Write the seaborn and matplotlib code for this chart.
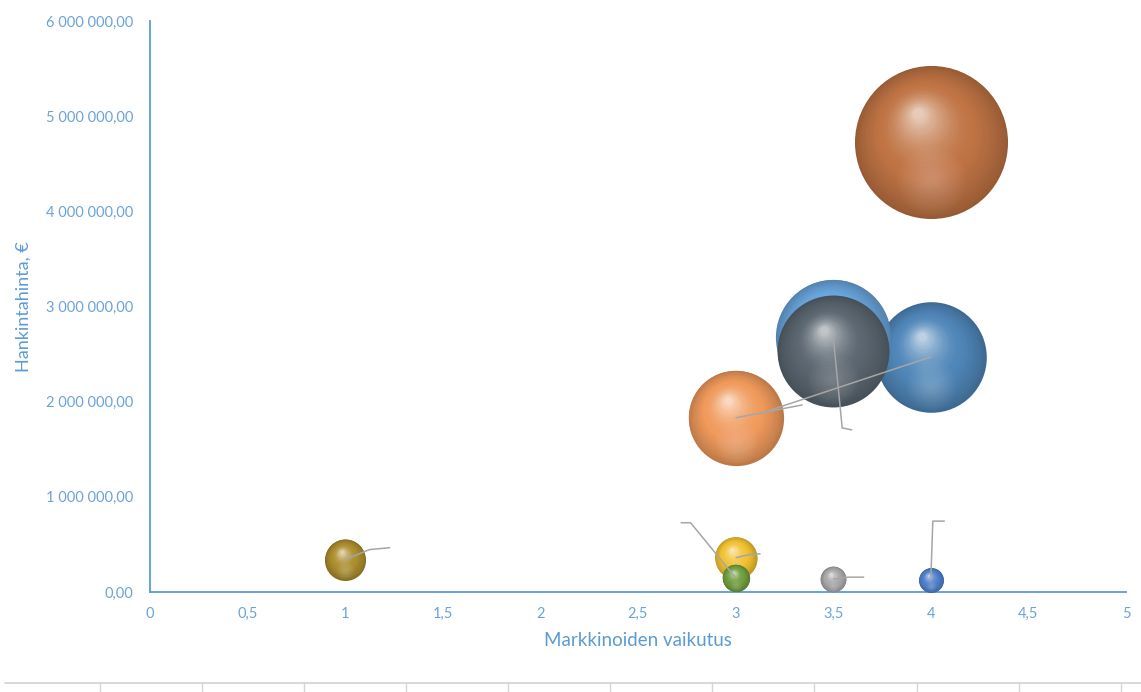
import numpy as np
import pandas as pd
import matplotlib
matplotlib.use("Agg")
import matplotlib.pyplot as plt
import matplotlib.transforms as mtransforms
from matplotlib.colors import to_rgb
from matplotlib.lines import Line2D
from matplotlib.ticker import FuncFormatter, MultipleLocator
import seaborn as sns

# Purchases: market impact (x) against purchase price (y); bubble area follows the price
hankinnat = ["H1", "H2", "H3", "H4", "H5", "H6", "H7", "H8", "H9", "H10"]
markkinavaikutus = [4.0, 3.5, 3.5, 4.0, 3.0, 1.0, 3.0, 3.0, 3.5, 4.0]
hankintahinta = [2_470_000, 2_680_000, 2_530_000, 4_730_000, 1_830_000,
                 340_000, 360_000, 150_000, 135_000, 125_000]
varit = ["#4F86B8", "#6AA6DE", "#5A6670", "#C07444", "#F09A5C",
         "#AC8E2E", "#F2C232", "#70A03E", "#A8A8A8", "#5080CC"]

# leader lines (pixel offsets from the bubble centre, y pointing down)
johtoviivat = [
    [(0, 0), (-172, 57)],
    [(0, 0), (9, 91), (19, 93)],
    None,
    None,
    [(0, 0), (67, -13)],
    [(0, 0), (24, -10), (45, -12)],
    [(0, 0), (13, -3), (25, -4)],
    [(0, 0), (-45, -55), (-55, -55)],
    [(0, 0), (15, -2), (31, -2)],
    [(0, 0), (2, -59), (14, -59)],
]

df = pd.DataFrame({"hankinta": hankinnat, "vaikutus": markkinavaikutus,
                   "hinta": hankintahinta, "vari": varit})

sns.set_theme(style="white")
plt.rcParams["font.family"] = ["Lato", "DejaVu Sans"]

DPI = 100
fig = plt.figure(figsize=(11.41, 6.92), dpi=DPI)
ax = fig.add_axes([150 / 1141, 100 / 692, 976 / 1141, 571 / 692])
ax.set_xlim(0, 5)
ax.set_ylim(0, 6_000_000)

YMAX = 6_000_000
SMAX = 2567 * 6.0          # marker area (pt^2) at YMAX


def mix(c1, c2, t):
    a, b = np.array(to_rgb(c1)), np.array(to_rgb(c2))
    return tuple(np.clip(a + (b - a) * t, 0, 1))


def shade(base, t):
    # t = 0 at the rim, 1 at the specular highlight
    dark = mix(base, "black", 0.22)
    light = mix(base, "white", 0.62)
    if t < 0.4:
        return mix(dark, base, (t / 0.4) ** 0.8)
    return mix(base, light, ((t - 0.4) / 0.6) ** 1.7)


N_LAYERS = 48
for i, row in df.iterrows():
    s = SMAX * row["hinta"] / YMAX
    r_px = np.sqrt(s) / 2 * DPI / 72
    sns.scatterplot(data=df.iloc[[i]], x="vaikutus", y="hinta", size="hinta",
                    sizes=(0, SMAX), size_norm=(0, YMAX), color=shade(row["vari"], 0),
                    linewidth=0, legend=False, ax=ax, zorder=3 + i)
    hx, hy = -0.18 * r_px, 0.40 * r_px
    for k in range(1, N_LAYERS):
        t = k / (N_LAYERS - 1)
        f = 1 - 0.93 * t
        tr = mtransforms.offset_copy(ax.transData, fig=fig,
                                     x=(1 - f) * hx, y=(1 - f) * hy, units="dots")
        ax.scatter([row["vaikutus"]], [row["hinta"]], s=s * f * f,
                   color=shade(row["vari"], t), linewidth=0, transform=tr,
                   zorder=3 + i)
    # soft bounce light in the lower half of the sphere
    tr = mtransforms.offset_copy(ax.transData, fig=fig,
                                 x=0.0, y=-0.5 * r_px, units="dots")
    for fr in np.linspace(0.45, 0.08, 12):
        ax.scatter([row["vaikutus"]], [row["hinta"]], s=s * fr * fr,
                   color="white", alpha=0.02, linewidth=0, transform=tr,
                   zorder=3 + i)

# leader lines
for i, row in df.iterrows():
    pts = johtoviivat[i]
    if not pts:
        continue
    base = ax.transData.transform((row["vaikutus"], row["hinta"]))
    disp = np.array([[base[0] + dx, base[1] - dy] for dx, dy in pts])
    data = ax.transData.inverted().transform(disp)
    ax.plot(data[:, 0], data[:, 1], color="#A6A6A6", lw=1.1, zorder=30,
            solid_capstyle="butt")

BLUE = "#5B9BD5"
TICK_BLUE = "#6AA3DA"
for side in ["top", "right"]:
    ax.spines[side].set_visible(False)
for side in ["left", "bottom"]:
    ax.spines[side].set_color(BLUE)
    ax.spines[side].set_linewidth(1.3)

ax.xaxis.set_major_locator(MultipleLocator(0.5))
ax.yaxis.set_major_locator(MultipleLocator(1_000_000))
ax.xaxis.set_major_formatter(FuncFormatter(lambda v, p: f"{v:g}".replace(".", ",")))
ax.yaxis.set_major_formatter(
    FuncFormatter(lambda v, p: f"{v:,.2f}".replace(",", " ").replace(".", ",")))
ax.tick_params(axis="both", length=0, labelsize=10.5, colors=TICK_BLUE)
ax.tick_params(axis="y", pad=12)
ax.tick_params(axis="x", pad=11)
ax.grid(False)

ax.set_xlabel("Markkinoiden vaikutus", color=BLUE, fontsize=13.5, labelpad=8)
ax.set_ylabel("Hankintahinta, €", color=BLUE, fontsize=13, labelpad=10)

# sheet grid peeking in at the bottom edge
gy = 9 / 692
fig.add_artist(Line2D([5 / 1141, 1.0], [gy, gy], transform=fig.transFigure,
                      color="#D6D6D6", lw=1.3))
for gx in np.arange(99.7, 1141, 102.1):
    fig.add_artist(Line2D([gx / 1141, gx / 1141], [0, gy], transform=fig.transFigure,
                          color="#D6D6D6", lw=1.0))

fig.savefig("out.png", dpi=DPI, facecolor="white")
